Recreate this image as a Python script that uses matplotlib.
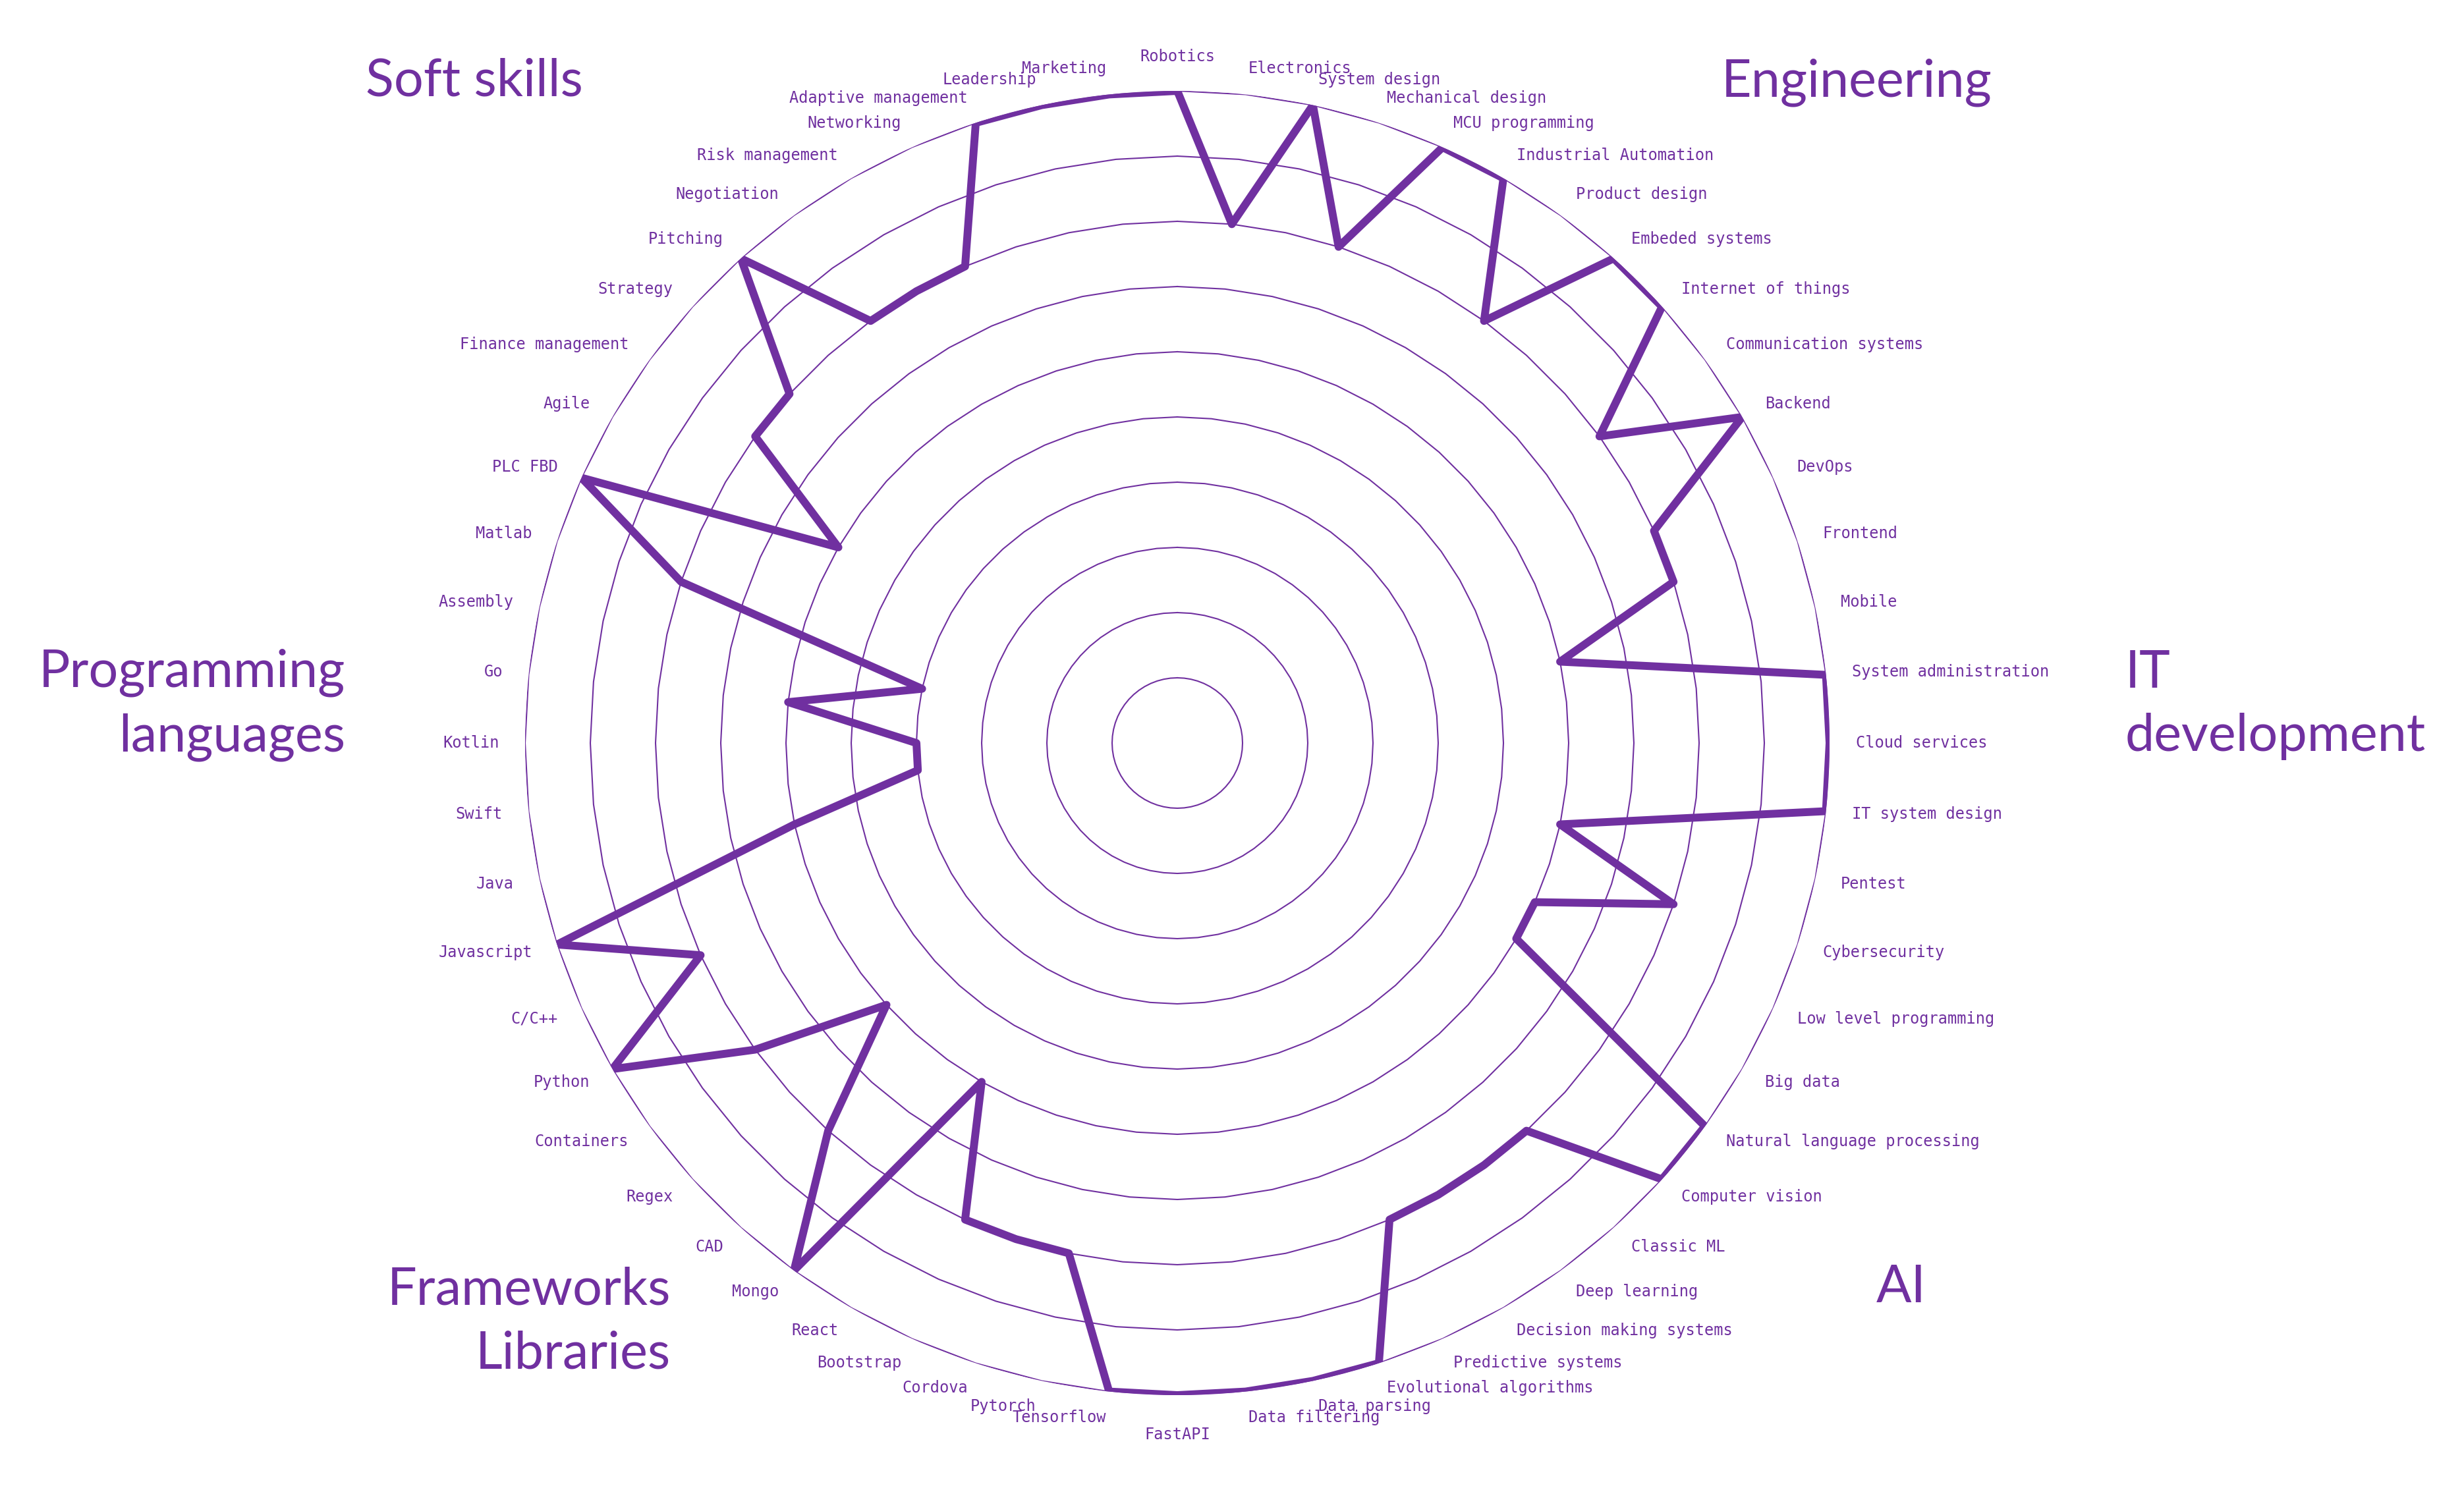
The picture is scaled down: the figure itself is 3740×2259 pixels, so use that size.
# skills radar chart, excel style
import numpy as np
import matplotlib.pyplot as plt

purple = '#7030A0'

# categories clockwise from the top
skills = ['Robotics', 'Electronics', 'System design', 'Mechanical design',
          'MCU programming', 'Industrial Automation', 'Product design',
          'Embeded systems', 'Internet of things', 'Communication systems',
          'Backend', 'DevOps', 'Frontend', 'Mobile', 'System administration',
          'Cloud services', 'IT system design', 'Pentest', 'Cybersecurity',
          'Low level programming', 'Big data', 'Natural language processing',
          'Computer vision', 'Classic ML', 'Deep learning',
          'Decision making systems', 'Predictive systems',
          'Evolutional algorithms', 'Data parsing', 'Data filtering',
          'FastAPI', 'Tensorflow', 'Pytorch', 'Cordova', 'Bootstrap', 'React',
          'Mongo', 'CAD', 'Regex', 'Containers', 'Python', 'C/C++',
          'Javascript', 'Java', 'Swift', 'Kotlin', 'Go', 'Assembly', 'Matlab',
          'PLC FBD', 'Agile', 'Finance management', 'Strategy', 'Pitching',
          'Negotiation', 'Risk management', 'Networking',
          'Adaptive management', 'Leadership', 'Marketing']

levels = [10, 8, 10, 8, 10, 10, 8, 10, 10, 8,
          10, 8, 8, 6, 10, 10, 10, 6, 8, 6,
          6, 10, 10, 8, 8, 8, 8, 10, 10, 10,
          10, 10, 8, 8, 8, 6, 10, 8, 6, 8,
          10, 8, 10, 6, 4, 4, 6, 4, 8, 10,
          6, 8, 8, 10, 8, 8, 8, 10, 10, 10]

rings = [1, 2, 3, 4, 5, 6, 7, 8, 9, 10]

# group titles: (text, x px, baseline px, alignment)
groups = [('Soft skills', 555, 146, 'left'),
          ('Engineering', 2613, 146, 'left'),
          ('IT\ndevelopment', 3226, 1140, 'left'),
          ('Programming\nlanguages', 524, 1140, 'right'),
          ('Frameworks\nLibraries', 1018, 2077, 'right'),
          ('AI', 2848, 1977, 'left')]

W, H = 3740, 2259
fig = plt.figure(figsize=(W / 100, H / 100), dpi=100)

# polar axes, centre at (1787, 1128) px, radius 990 px
cx, cy, R = 1787, 1128, 990
ax = fig.add_axes([(cx - R) / W, 1 - (cy + R) / H, 2 * R / W, 2 * R / H],
                  projection='polar')
ax.set_theta_offset(np.pi / 2)
ax.set_theta_direction(-1)
ax.set_ylim(0, 10)
ax.grid(False)
ax.set_xticks([])
ax.set_yticks([])
ax.spines['polar'].set_visible(False)
ax.patch.set_alpha(0)

n = len(skills)
theta = np.linspace(0, 2 * np.pi, n, endpoint=False)
theta_closed = np.append(theta, theta[0])

# polygon grid rings
for r in rings:
    ax.plot(theta_closed, [r] * (n + 1), color=purple, lw=1.5, zorder=1)

vals = np.append(levels, levels[0])
ax.plot(theta_closed, vals, color=purple, lw=8.6, solid_joinstyle='round',
        solid_capstyle='round', zorder=3)

# category labels
for t, name in zip(theta, skills):
    deg = np.degrees(t)
    r_lab = 10.4
    if np.isclose(deg, 0):
        ha, va = 'center', 'bottom'
    elif np.isclose(deg, 180):
        ha, va = 'center', 'top'
        r_lab = 10.48
    elif deg < 180:
        ha, va = 'left', 'center'
    else:
        ha, va = 'right', 'center'
    ax.text(t, r_lab, name, ha=ha, va=va, color=purple,
            family='DejaVu Sans Mono', fontsize=17)

for text, x, y, ha in groups:
    fig.text(x / W, 1 - y / H, text, ha=ha, va='baseline', color=purple,
             family='Lato', fontsize=57, linespacing=1.42,
             multialignment=ha)

fig.savefig('out.png', dpi=100, facecolor='white')
